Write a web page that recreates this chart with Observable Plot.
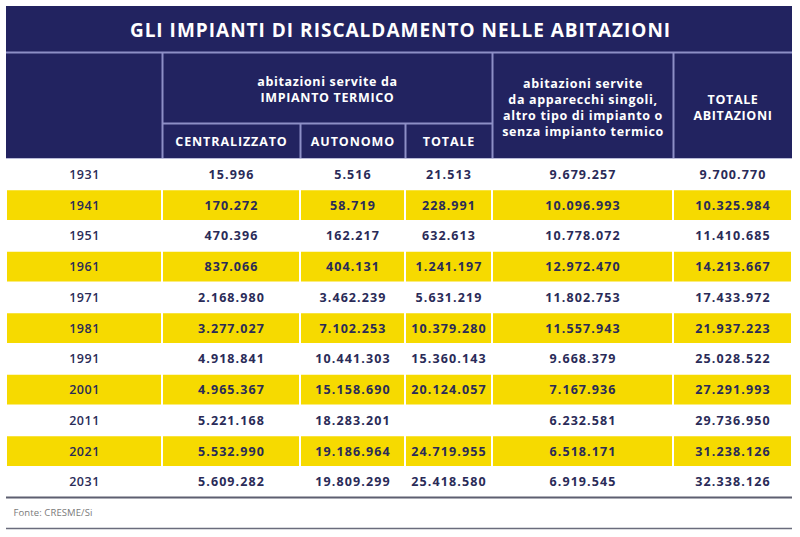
<!DOCTYPE html>
<html><head><meta charset="utf-8">
<script src="https://cdn.jsdelivr.net/npm/d3@7"></script>
<script src="https://cdn.jsdelivr.net/npm/@observablehq/plot@0.6"></script>
<style>body{margin:0;background:#fff} svg{display:block}</style>
</head><body><div id="chart"></div><script>
const title = "GLI IMPIANTI DI RISCALDAMENTO NELLE ABITAZIONI";
const groupHeader = "abitazioni servite da\nIMPIANTO TERMICO";
const singoliHeader = "abitazioni servite\nda apparecchi singoli,\naltro tipo di impianto o\nsenza impianto termico";
const totaleAbitHeader = "TOTALE\nABITAZIONI";
const subHeaders = ["CENTRALIZZATO", "AUTONOMO", "TOTALE"];
const source = "Fonte: CRESME/Si";

const years = ["1931","1941","1951","1961","1971","1981","1991","2001","2011","2021","2031"];
const centralizzato = [15996, 170272, 470396, 837066, 2168980, 3277027, 4918841, 4965367, 5221168, 5532990, 5609282];
const autonomo = [5516, 58719, 162217, 404131, 3462239, 7102253, 10441303, 15158690, 18283201, 19186964, 19809299];
const totaleImpianto = [21513, 228991, 632613, 1241197, 5631219, 10379280, 15360143, 20124057, null, 24719955, 25418580];
const apparecchiSingoli = [9679257, 10096993, 10778072, 12972470, 11802753, 11557943, 9668379, 7167936, 6232581, 6518171, 6919545];
const totaleAbitazioni = [9700770, 10325984, 11410685, 14213667, 17433972, 21937223, 25028522, 27291993, 29736950, 31238126, 32338126];

// layout (pixel units of the 800x537 canvas)
const colEdges = [6, 162, 300, 405, 492, 673, 792];
const boxTop = 6, titleBottom = 52, subTop = 123, headBottom = 158;
const bodyTop = 159, rowH = 30.75;
const bottomLine = 497, footLine = 528;

const navy = "#222360", lineC = "#8d8fc6", yellow = "#f6da00", ink = "#2a2b58";
const font = "'Open Sans', sans-serif";

const fmt = d3.formatLocale({decimal: ",", thousands: ".", grouping: [3], currency: ["€", ""]}).format(",d");

const columns = [years, centralizzato, autonomo, totaleImpianto, apparecchiSingoli, totaleAbitazioni];
const cells = [];
years.forEach((yr, i) => {
  columns.forEach((col, j) => {
    const v = col[i];
    cells.push({
      row: i, col: j,
      x1: colEdges[j], x2: colEdges[j + 1],
      y1: bodyTop + i * rowH, y2: bodyTop + (i + 1) * rowH,
      xc: (colEdges[j] + colEdges[j + 1]) / 2,
      yc: bodyTop + (i + 0.5) * rowH,
      label: j === 0 ? v : (v == null ? "" : fmt(v)),
      band: i % 2 === 1
    });
  });
});

const headTexts = [
  {x: (colEdges[1] + colEdges[4]) / 2, y: (titleBottom + subTop) / 2 + 1, t: groupHeader},
  {x: (colEdges[4] + colEdges[5]) / 2, y: (titleBottom + headBottom) / 2 + 1, t: singoliHeader},
  {x: (colEdges[5] + colEdges[6]) / 2, y: (titleBottom + headBottom) / 2 + 1, t: totaleAbitHeader}
];
const subTexts = subHeaders.map((t, k) => ({x: (colEdges[k + 1] + colEdges[k + 2]) / 2, y: (subTop + headBottom) / 2 + 1, t}));

// letter spacing per text mark, in the order the text marks appear below
const spacing = [1.0, 0.65, 0.9, 0.5, 1.1, 0.1];

const chart = Plot.plot({
  width: 800, height: 537, margin: 0,
  x: {domain: [0, 800], range: [0, 800], axis: null},
  y: {domain: [0, 537], range: [0, 537], axis: null},
  style: {fontFamily: font, background: "#fff"},
  marks: [
    Plot.rect([{}], {x1: colEdges[0], x2: colEdges[6], y1: boxTop, y2: headBottom, fill: navy}),
    Plot.rect(cells.filter(d => d.band), {x1: "x1", x2: "x2", y1: "y1", y2: "y2", fill: yellow, insetLeft: 1, insetRight: 1, insetTop: 0.5, insetBottom: 0.5}),
    // header lines
    Plot.ruleY([titleBottom], {x1: colEdges[0], x2: colEdges[6], stroke: lineC, strokeWidth: 2}),
    Plot.ruleY([subTop], {x1: colEdges[1], x2: colEdges[4], stroke: lineC, strokeWidth: 2}),
    Plot.ruleX([colEdges[1], colEdges[4], colEdges[5]], {y1: titleBottom, y2: headBottom, stroke: lineC, strokeWidth: 2}),
    Plot.ruleX([colEdges[2], colEdges[3]], {y1: subTop, y2: headBottom, stroke: lineC, strokeWidth: 2}),
    Plot.ruleY([headBottom], {x1: colEdges[0], x2: colEdges[6], stroke: "#b9bad8", strokeWidth: 1}),
    // title
    Plot.text([title], {x: 400, y: (boxTop + titleBottom) / 2 + 1.5, text: d => d, fill: "#fff", fontSize: 19, fontWeight: 700, textAnchor: "middle", lineAnchor: "middle"}),
    Plot.text(headTexts, {x: "x", y: "y", text: "t", fill: "#fff", fontSize: 12.5, fontWeight: 700, lineHeight: 1.28, textAnchor: "middle", lineAnchor: "middle"}),
    Plot.text(subTexts, {x: "x", y: "y", text: "t", fill: "#fff", fontSize: 12.5, fontWeight: 700, textAnchor: "middle", lineAnchor: "middle"}),
    // body
    Plot.text(cells.filter(d => d.col === 0), {x: "xc", y: "yc", text: "label", fill: ink, fontSize: 12.5, fontWeight: 600, textAnchor: "middle", lineAnchor: "middle"}),
    Plot.text(cells.filter(d => d.col > 0), {x: "xc", y: "yc", text: "label", fill: ink, fontSize: 12.5, fontWeight: 700, textAnchor: "middle", lineAnchor: "middle"}),
    // footer
    Plot.ruleY([bottomLine], {x1: colEdges[0], x2: colEdges[6], stroke: "#5d5f70", strokeWidth: 2}),
    Plot.text([source], {x: 13, y: (bottomLine + footLine) / 2, text: d => d, fill: "#7a7a7a", fontSize: 9.5, textAnchor: "start", lineAnchor: "middle"}),
    Plot.ruleY([footLine], {x1: colEdges[0], x2: colEdges[6], stroke: "#6a6c7c", strokeWidth: 1.5})
  ]
});
d3.select(chart).selectAll('g[aria-label="text"]').each(function (_, k) {
  d3.select(this).style("letter-spacing", spacing[k] + "px");
});
document.getElementById("chart").append(chart);
</script></body></html>
